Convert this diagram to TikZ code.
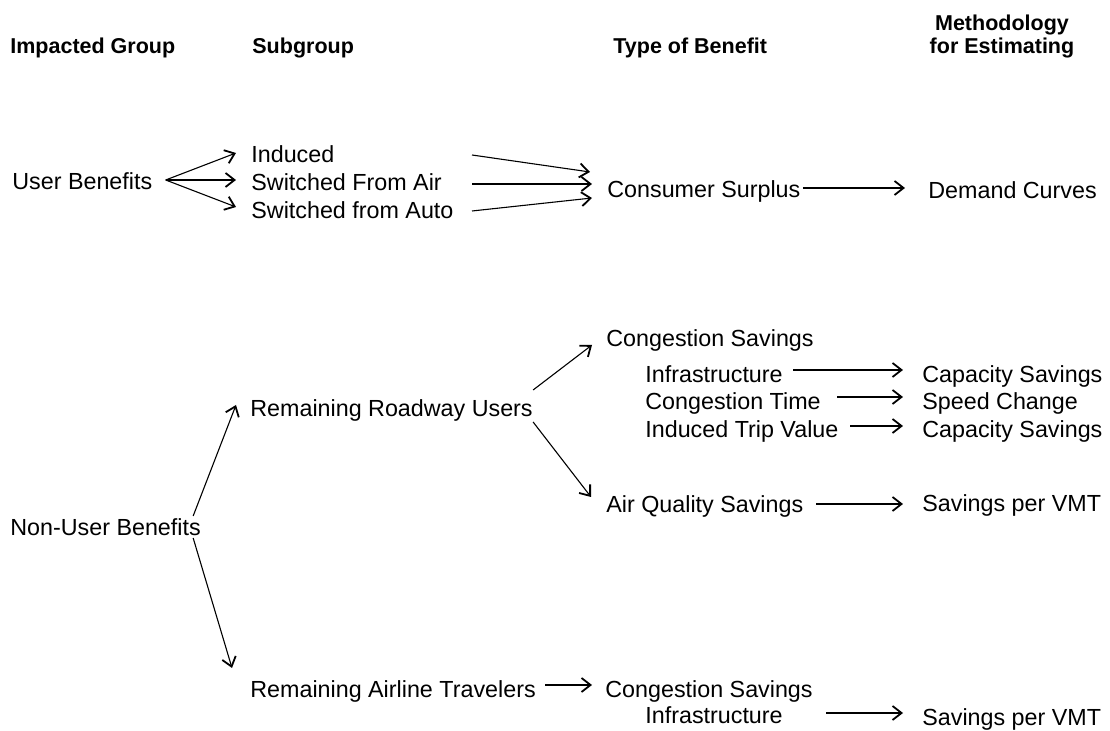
\documentclass[tikz,border=0pt]{standalone}
\usepackage{fontspec}
\setmainfont{Liberation Sans}
\usetikzlibrary{arrows.meta,calc}
\begin{document}
\begin{tikzpicture}[x=0.5pt,y=-0.5pt,
  txt/.style={anchor=base west,inner sep=0pt,font=\fontsize{11.65}{14}\selectfont},
  hdr/.style={anchor=base west,inner sep=0pt,font=\fontsize{10.75}{11.5}\selectfont\bfseries},
  arr/.style={-{Straight Barb[length=4.5pt,width=7pt,line width=0.9pt]},line width=0.55pt}]
\useasboundingbox (0,0) rectangle (1110,731);
\fill[white] (0,0) rectangle (1110,731);
% headers
\node[hdr] (imp) at (10,54) {Impacted Group};
\node[hdr] (sub) at (252,54) {Subgroup};
\node[hdr] (tob) at (613,54) {Type of Benefit};
\node[hdr,anchor=south,align=center] (meth) at (1002,58.5) {Methodology\\for Estimating};
% user benefits
\node[txt] (ub) at (12,190) {User Benefits};
\node[txt] (ind) at (251,163) {Induced};
\node[txt] (sfa) at (251,191) {Switched From Air};
\node[txt] (sfau) at (251,219) {Switched from Auto};
\node[txt] (cs) at (607,198) {Consumer Surplus};
\node[txt] (dc) at (928,199) {Demand Curves};
% non-user benefits
\node[txt] (nub) at (10,536) {Non-User Benefits};
\node[txt] (rru) at (250,417) {Remaining Roadway Users};
\node[txt] (rat) at (250,698) {Remaining Airline Travelers};
\node[txt] (cg1) at (606,347) {Congestion Savings};
\node[txt] (inf1) at (645,383) {Infrastructure};
\node[txt] (ct) at (645,410) {Congestion Time};
\node[txt] (itv) at (645,438) {Induced Trip Value};
\node[txt] (cap1) at (922,383) {Capacity Savings};
\node[txt] (spc) at (922,410) {Speed Change};
\node[txt] (cap2) at (922,438) {Capacity Savings};
\node[txt] (aqs) at (606,513) {Air Quality Savings};
\node[txt] (spv1) at (922,512) {Savings per VMT};
\node[txt] (cg2) at (605,698) {Congestion Savings};
\node[txt] (inf2) at (645,724) {Infrastructure};
\node[txt] (spv2) at (922,726) {Savings per VMT};
% connectors: user benefits
\draw[arr] ($(ub.base east)+(13,-10)$) -- ($(ind.base west)+(-15,-10)$);
\draw[arr] ($(ub.base east)+(13,-10)$) -- ($(sfa.base west)+(-15,-11)$);
\draw[arr] ($(ub.base east)+(13,-10)$) -- ($(sfau.base west)+(-15,-12)$);
\draw[arr] ($(ind.base west)+(221,-8)$) -- ($(cs.base west)+(-17,-26)$);
\draw[arr] ($(sfa.base west)+(221,-7)$) -- ($(cs.base west)+(-15,-14)$);
\draw[arr] ($(sfau.base west)+(221,-8)$) -- ($(cs.base west)+(-15,0)$);
\draw[arr] ($(cs.base east)+(2,-10)$) -- ($(dc.base west)+(-23,-11)$);
% connectors: non-user benefits
\draw[arr] ($(nub.base east)+(-8,-20)$) -- ($(rru.base west)+(-14,-12)$);
\draw[arr] ($(nub.base east)+(-8,2)$) -- ($(rat.base west)+(-18,-30)$);
\draw[arr] ($(rru.base east)+(0,-27)$) -- ($(cg1.base west)+(-14,-2)$);
\draw[arr] ($(rru.base east)+(0,5)$) -- ($(aqs.base west)+(-15,-16)$);
\draw[arr] ($(inf1.base west)+(148,-13)$) -- ($(cap1.base west)+(-19,-13)$);
\draw[arr] ($(ct.base west)+(192,-13)$) -- ($(spc.base west)+(-19,-13)$);
\draw[arr] ($(itv.base west)+(205,-12)$) -- ($(cap2.base west)+(-19,-12)$);
\draw[arr] ($(aqs.base west)+(210,-9)$) -- ($(spv1.base west)+(-19,-8)$);
\draw[arr] ($(rat.base east)+(9,-13)$) -- ($(cg2.base west)+(-13,-13)$);
\draw[arr] ($(inf2.base west)+(181,-11)$) -- ($(spv2.base west)+(-19,-13)$);
\end{tikzpicture}
\end{document}
